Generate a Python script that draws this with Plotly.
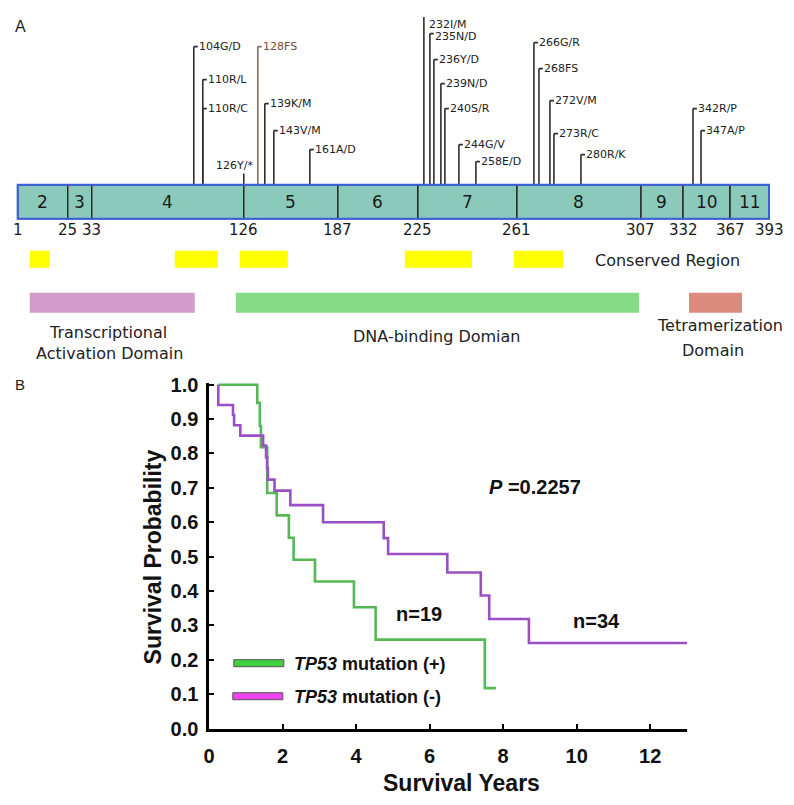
import plotly.graph_objects as go

W, H = 794, 805
# empirical mapping from reference-picture pixels to figure pixels (page offset / scale)
SX, CX = 0.992, 14.3
SY, CY = 0.975, 16.4

# ---------------- Panel A data (schematic diagram units) ----------------
exon_names = ["2", "3", "4", "5", "6", "7", "8", "9", "10", "11"]
exon_edges_aa = [1, 25, 33, 126, 187, 225, 261, 307, 332, 367, 393]
exon_edges_pos = [18, 68, 92, 244, 338, 418, 517, 641, 683, 730, 769]

mut_labels = ["104G/D", "110R/L", "110R/C", "126Y/*", "128FS", "139K/M", "143V/M", "161A/D",
              "232I/M", "235N/D", "236Y/D", "239N/D", "240S/R", "244G/V", "258E/D",
              "266G/R", "268FS", "272V/M", "273R/C", "280R/K", "342R/P", "347A/P"]
mut_pos = [194, 203, 203, 244, 258, 265, 274, 310,
           424, 430, 434, 441, 445, 459, 476,
           534, 539, 550, 554, 581, 693, 701]
mut_height = [138, 105, 76, 11, 138, 81, 54, 35,
              173, 151, 125, 101, 76, 40, 23,
              142, 116, 84, 51, 30, 76, 54]

conserved_start = [30, 175, 240, 405, 514]
conserved_end = [50, 218, 288, 472, 563]

domain_start = [30, 236, 689]
domain_end = [195, 639, 742]
domain_colors = ["#d49acb", "#86dc86", "#dc8b7e"]

# ---------------- Panel B data (Kaplan-Meier) ----------------
pos_time = [0.25, 1.31, 1.38, 1.41, 1.58, 1.84, 2.17, 2.30, 2.88, 3.94, 4.53, 7.50, 7.80]
pos_surv = [1.0, 0.947, 0.88, 0.818, 0.685, 0.62, 0.555, 0.491, 0.428, 0.353, 0.259, 0.118, 0.118]

neg_time = [0.25, 0.25, 0.65, 0.68, 0.85, 1.47, 1.55, 1.58, 1.60, 1.78, 2.21, 3.10,
            4.75, 4.87, 6.48, 7.39, 7.62, 8.70, 13.0]
neg_surv = [1.0, 0.941, 0.912, 0.882, 0.852, 0.823, 0.789, 0.757, 0.724, 0.692, 0.650, 0.600,
            0.554, 0.508, 0.454, 0.387, 0.319, 0.249, 0.249]

x_ticks = [0, 2, 4, 6, 8, 10, 12]
y_ticks = [round(0.1 * i, 1) for i in range(11)]

DJ = "DejaVu Sans"
AR = "Liberation Sans, Arial"


def px(x):
    return ((x - CX) / SX) / W


def py(y):
    return 1 - ((y - CY) / SY) / H


Y2_TOP = 184 - CY  # diagram units at the figure's top edge

fig = go.Figure()

# ---- exon bar ----
exon_start = exon_edges_pos[:-1]
exon_len = [b - a for a, b in zip(exon_edges_pos[:-1], exon_edges_pos[1:])]
fig.add_trace(go.Bar(
    x=exon_len, base=exon_start, y=[-17] * len(exon_len), width=34, orientation="h",
    marker=dict(color="#8bcabb", line=dict(color="#2a2a2a", width=1.5)),
    xaxis="x2", yaxis="y2", showlegend=False, hoverinfo="skip"))

# conserved regions
fig.add_trace(go.Bar(
    x=[e - s for s, e in zip(conserved_start, conserved_end)], base=conserved_start,
    y=[-74.5] * len(conserved_start), width=17, orientation="h",
    marker=dict(color="#ffff00", line=dict(width=0)),
    xaxis="x2", yaxis="y2", showlegend=False, hoverinfo="skip"))

# domains
fig.add_trace(go.Bar(
    x=[e - s for s, e in zip(domain_start, domain_end)], base=domain_start,
    y=[-118] * len(domain_start), width=20, orientation="h",
    marker=dict(color=domain_colors, line=dict(width=0)),
    xaxis="x2", yaxis="y2", showlegend=False, hoverinfo="skip"))

# ---- mutation stems ----
sx, sy, bx, by = [], [], [], []
for lab, p, h in zip(mut_labels, mut_pos, mut_height):
    tx = bx if lab == "128FS" else sx
    ty = by if lab == "128FS" else sy
    tx += [p, p, None]
    ty += [h, 0, None]
    if lab != "126Y/*":
        tx += [p, p + 4, None]
        ty += [h, h, None]
fig.add_trace(go.Scatter(x=sx, y=sy, mode="lines", line=dict(color="#2e2e2e", width=1.6),
                         xaxis="x2", yaxis="y2", showlegend=False, hoverinfo="skip"))
fig.add_trace(go.Scatter(x=bx, y=by, mode="lines", line=dict(color="#8a6e62", width=1.6),
                         xaxis="x2", yaxis="y2", showlegend=False, hoverinfo="skip"))

# ---- KM curves ----
fig.add_trace(go.Scatter(x=pos_time, y=pos_surv, mode="lines", line_shape="hv",
                         line=dict(color="#55b855", width=2.6), name="TP53 mutation (+)",
                         showlegend=False, hoverinfo="skip"))
fig.add_trace(go.Scatter(x=neg_time, y=neg_surv, mode="lines", line_shape="hv",
                         line=dict(color="#9a50c4", width=2.6), name="TP53 mutation (-)",
                         showlegend=False, hoverinfo="skip"))

ann = []
shapes = []


def note(x, y, text, font, ref="paper", xanchor="center", yanchor="middle", **kw):
    if ref == "paper":
        ann.append(dict(x=px(x), y=py(y), xref="paper", yref="paper",
                        text=text, showarrow=False, xanchor=xanchor, yanchor=yanchor, font=font, **kw))
    else:
        ann.append(dict(x=x, y=y, xref="x2", yref="y2", text=text, showarrow=False,
                        xanchor=xanchor, yanchor=yanchor, font=font, **kw))


# outline of exon bar
shapes.append(dict(type="rect", xref="x2", yref="y2", x0=exon_edges_pos[0], x1=exon_edges_pos[-1],
                   y0=-34, y1=0, line=dict(color="#3c5fe0", width=2), layer="above"))

f_ex = dict(family=DJ, size=17, color="#1a1a1a")
for i, name in enumerate(exon_names):
    note((exon_edges_pos[i] + exon_edges_pos[i + 1]) / 2, -17, name, f_ex, ref="d")
f_bd = dict(family=DJ, size=15, color="#1a1a1a")
for aa, p in zip(exon_edges_aa, exon_edges_pos):
    note(p, -45, str(aa), f_bd, ref="d")
for lab, p, h in zip(mut_labels, mut_pos, mut_height):
    f_m = dict(family=DJ, size=11, color="#7a4a38" if lab == "128FS" else "#222")
    if lab == "126Y/*":
        note(p - 9, h + 8, lab, f_m, ref="d", borderpad=0)
    elif h > Y2_TOP - 7:
        # label would leave the picture: pin it to the top edge
        ann.append(dict(x=p + 4, y=1, xref="x2", yref="paper", text=lab, showarrow=False,
                        xanchor="left", yanchor="top", font=f_m, borderpad=0))
    else:
        note(p + 4, h, lab, f_m, ref="d", xanchor="left", borderpad=0,
             yshift=-3 if h > Y2_TOP - 25 else 0)

f_lab = dict(family=DJ, size=16, color="#222")
note(593, -76, "Conserved Region", f_lab, ref="d", xanchor="left")
note(108, -148, "Transcriptional", f_lab, ref="d")
note(110, -169, "Activation Domain", f_lab, ref="d")
note(437, -152, "DNA-binding Domian", f_lab, ref="d")
note(720, -141, "Tetramerization", f_lab, ref="d")
note(713, -166, "Domain", f_lab, ref="d")

# panel letters (pinned to the left edge)
ann.append(dict(x=0, y=1, xref="paper", yref="paper", text="A", showarrow=False,
                xanchor="left", yanchor="top", font=dict(family=AR, size=16, color="#222"), borderpad=0))
ann.append(dict(x=0, y=py(384), xref="paper", yref="paper", text="B", showarrow=False,
                xanchor="left", yanchor="middle", font=dict(family=AR, size=15, color="#222"), borderpad=0))

# KM text
bold = dict(family=AR, size=20, color="#111", weight="bold")
note(535, 486, "<i>P</i> =0.2257", bold)
note(419, 613, "n=19", bold)
note(597, 620, "n=34", bold)
note(153, 556, "Survival Probability", dict(family=AR, size=23, color="#111", weight="bold"),
     textangle=-90)
note(462, 782, "Survival Years", dict(family=AR, size=23, color="#111", weight="bold"))

# legend
shapes.append(dict(type="rect", xref="paper", yref="paper", x0=px(234), x1=px(284), y0=py(666), y1=py(659),
                   fillcolor="#3fd03f", line=dict(color="#555", width=1)))
shapes.append(dict(type="rect", xref="paper", yref="paper", x0=px(233), x1=px(283), y0=py(699), y1=py(692),
                   fillcolor="#ee44ee", line=dict(color="#555", width=1)))
legfont = dict(family=AR, size=18, color="#111", weight="bold")
note(292, 663, "<i>TP53</i> mutation (+)", legfont, xanchor="left")
note(292, 696, "<i>TP53</i> mutation (-)", legfont, xanchor="left")

tickfont = dict(family=AR, size=20, color="#111", weight="bold")

fig.update_layout(
    width=W, height=H, margin=dict(l=0, r=0, t=0, b=0),
    paper_bgcolor="white", plot_bgcolor="white", barmode="overlay",
    annotations=ann, shapes=shapes, showlegend=False,
    xaxis=dict(domain=[px(209.3), px(687)], range=[0, 13], showline=True, linecolor="black",
               linewidth=2.5, ticks="inside", ticklen=5, tickwidth=2, tickcolor="black",
               tickvals=x_ticks, ticktext=[str(v) for v in x_ticks], tickfont=tickfont,
               showgrid=False, zeroline=False, anchor="y", ticklabelstandoff=8),
    yaxis=dict(domain=[py(728), py(382.3)], range=[0, 1.005], showline=True, linecolor="black",
               linewidth=2.5, ticks="inside", ticklen=5, tickwidth=2, tickcolor="black",
               tickvals=y_ticks, ticktext=["%.1f" % v for v in y_ticks], tickfont=tickfont,
               showgrid=False, zeroline=False, anchor="x", ticklabelstandoff=4),
    xaxis2=dict(domain=[0, 1], range=[CX, CX + SX * W], visible=False, anchor="y2"),
    yaxis2=dict(domain=[py(370), 1], range=[-186, Y2_TOP], visible=False, anchor="x2"),
)

fig.write_html("out.html")
